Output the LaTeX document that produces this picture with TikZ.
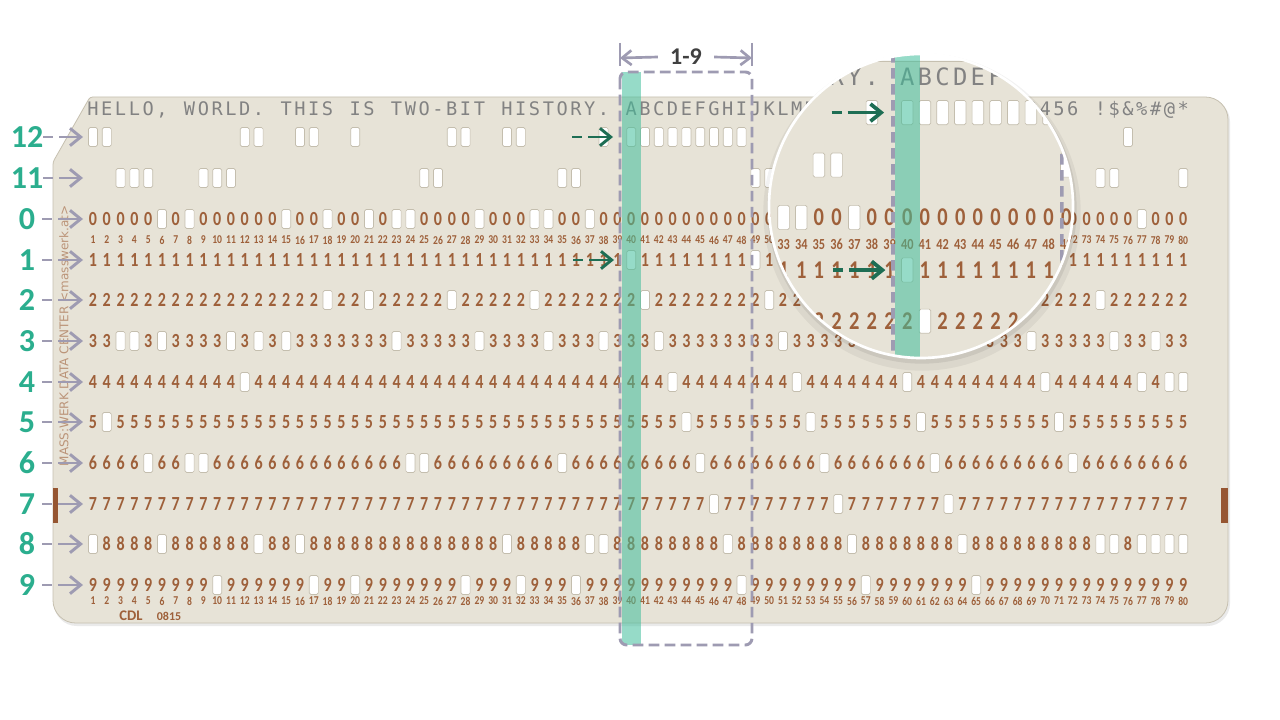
\documentclass[tikz,border=0pt]{standalone}
\usepackage{fontspec}
\setmainfont{Carlito}
\newfontfamily\monofont{DejaVu Sans Mono}
\newfontfamily\sidefont{DejaVu Sans}
\newfontfamily\digitfont{Carlito}[FakeStretch=0.8]
\usetikzlibrary{arrows.meta}

\definecolor{cardbg}{RGB}{231,227,215}
\definecolor{cardedge}{RGB}{198,192,176}
\definecolor{cardbrown}{RGB}{158,96,58}
\definecolor{barbrown}{RGB}{150,86,50}
\definecolor{printgray}{RGB}{130,130,130}
\definecolor{holeedge}{RGB}{196,190,174}
\definecolor{labelteal}{RGB}{43,174,142}
\definecolor{labeldark}{RGB}{64,64,64}
\definecolor{arrowgray}{RGB}{158,155,178}
\definecolor{darkgreen}{RGB}{30,110,84}
\definecolor{bandteal}{RGB}{64,190,155}

% punched rows of every column (IBM 029 code)
\newcommand\punchlist{1/{12,8},2/{12,5},3/{11,3},4/{11,3},5/{11,6},6/{0,8,3},8/{0,6},9/{11,6},10/{11,9},11/{11,3},12/{12,4},13/{12,8,3},15/{0,3},16/{12,8},17/{12,9},18/{0,2},20/{12,9},21/{0,2},23/{0,3},24/{0,6},25/{11,6},26/{11},27/{12,2},28/{12,9},29/{0,3},31/{12,8},32/{12,9},33/{0,2},34/{0,3},35/{11,6},36/{11,9},37/{0,8},38/{12,8,3},40/{12,1},41/{12,2},42/{12,3},43/{12,4},44/{12,5},45/{12,6},46/{12,7},47/{12,8},48/{12,9},49/{11,1},50/{11,2},51/{11,3},52/{11,4},53/{11,5},54/{11,6},55/{11,7},56/{11,8},57/{11,9},58/{0,2},59/{0,3},60/{0,4},61/{0,5},62/{0,6},63/{0,7},64/{0,8},65/{0,9},66/{0},67/{1},68/{2},69/{3},70/{4},71/{5},72/{6},74/{11,8,2},75/{11,8,3},76/{12},77/{0,8,4},78/{8,3},79/{8,4},80/{11,8,4}}
\foreach \cl/\pl in \punchlist {%
  \foreach \rw in \pl {\expandafter\gdef\csname hole\cl-\rw\endcsname{}}%
}

\newcommand\rowlist{12/137,11/178,0/219,1/260,2/300,3/341,4/382,5/422,6/463,7/504,8/544,9/585}
\newcommand\boxwidth{2.2pt}

% the card with its marks, drawn twice (card and magnifier)
\newcommand\cardbody{%
  \fill[black!40, opacity=0.2, rounded corners=17pt] (54,165) -- (91,99) -- (1230,99) -- (1230,626) -- (54,626) -- cycle;
  \draw[cardedge, fill=cardbg, line width=0.6pt] (53,162) [rounded corners=2pt] -- (90,97) [rounded corners=17pt] -- (1228,97) -- (1228,623) -- (53,623) [rounded corners=2pt] -- cycle;
  \fill[barbrown] (53,488) rectangle (58,523);
  \fill[barbrown] (1221,488) rectangle (1228,523);
  \node[sidetext, rotate=90] (maker) at (64,336) {MASS:WERK DATA CENTER <masswerk.at>};
  \node[text=cardbrown, font=\bfseries\fontsize{11}{11}\selectfont, inner sep=0pt] (cdl) at (131,616) {CDL};
  \node[text=cardbrown, font=\bfseries\fontsize{9}{9}\selectfont, inner sep=0pt] (serial) at (169,616) {0815};
  % printed line
  \foreach \ch [count=\cl] in {H,E,L,L,O,{,},{},W,O,R,L,D,.,{},T,H,I,S,{},I,S,{},T,W,O,-,B,I,T,{},H,I,S,T,O,R,Y,.,{},A,B,C,D,E,F,G,H,I,J,K,L,M,N,O,P,Q,R,S,T,U,V,W,X,Y,Z,0,1,2,3,4,5,6,{},!,\$,\&,\%,\#,@,*} {
    \pgfmathsetmacro\cx{93+(\cl-1)*13.8}
    \node[printchar] (p\cl) at (\cx,116) {\ch};
  }
  % holes and row digits
  \foreach \rw/\ry in \rowlist {
    \foreach \cl in {1,...,80} {
      \pgfmathsetmacro\cx{93+(\cl-1)*13.8}
      \ifcsname hole\cl-\rw\endcsname
        \node[hole] (h\rw-\cl) at (\cx,\ry) {};
      \else
        \ifnum\rw<10 \node[carddigit] (d\rw-\cl) at (\cx,\ry) {\rw};\fi
      \fi
    }
  }
  % column numbers
  \foreach \cl in {1,...,80} {
    \pgfmathsetmacro\cx{93+(\cl-1)*13.8}
    \node[colnum] (ct\cl) at (\cx,240) {\cl};
    \node[colnum] (cb\cl) at (\cx,601) {\cl};
  }
  % column 40 and the columns 40-48
  \fill[bandteal, opacity=0.55] (622,72) rectangle (641,645);
  \draw[arrowgray, line width=\boxwidth, dash pattern=on 8pt off 4pt, rounded corners=5pt] (620,72) rectangle (752,645);
  \coordinate (gA12) at (572,137);
  \coordinate (gB12) at (613,137);
  \draw[pointer, darkgreen] (gA12) -- (gB12);
  \coordinate (gA1) at (573,260);
  \coordinate (gB1) at (614,260);
  \draw[pointer, darkgreen] (gA1) -- (gB1);
}

\begin{document}
\begin{tikzpicture}[x=0.75pt, y=-0.75pt,
    hole/.style={draw=holeedge, fill=white, line width=0.5pt, rounded corners=1.2pt,
      minimum width=6.8pt, minimum height=14.2pt, inner sep=0pt},
    carddigit/.style={text=cardbrown, font=\digitfont\bfseries\fontsize{15}{15}\selectfont, inner sep=0pt},
    colnum/.style={text=cardbrown, font=\digitfont\bfseries\fontsize{9}{9}\selectfont, inner sep=0pt},
    printchar/.style={text=printgray, font=\monofont\fontsize{14}{14}\selectfont, inner sep=0pt, anchor=base},
    sidetext/.style={text=cardbrown, opacity=0.6, font=\sidefont\fontsize{9}{9}\selectfont, inner sep=0pt},
    rowlabel/.style={text=labelteal, font=\bfseries\fontsize{24}{24}\selectfont, inner sep=0pt, minimum width=22.5pt},
    pointer/.style={line width=\boxwidth, dash pattern=on 7.5pt off 4.5pt on 40pt, -{Straight Barb[length=8pt,width=13pt]}},
    spanarrow/.style={arrowgray, line width=2pt, -{Straight Barb[length=7pt,width=11pt]}}]
  \useasboundingbox (0,0) rectangle (1280,720);
  \fill[white] (0,0) rectangle (1280,720);

  \cardbody

  % magnifier
  \fill[black, opacity=0.05] (922,212) circle[radius=119pt];
  \fill[black, opacity=0.07] (922,209) circle[radius=116pt];
  \begin{scope}
    \clip (921,206) circle[radius=114pt];
    \fill[white] (921,206) circle[radius=114pt];
    \renewcommand\boxwidth{2.8pt}
    \begin{scope}[shift={(99.3,-62.8)}, scale=1.28, transform shape]
      \cardbody
    \end{scope}
  \end{scope}
  \draw[white, line width=2pt] (921,206) circle[radius=114pt];

  % row names
  \foreach \rw/\ry in \rowlist {
    \node[rowlabel] (lab\rw) at (27,\ry) {\rw};
    \coordinate (tip\rw) at (83,\ry);
    \draw[pointer, arrowgray] (lab\rw.east) -- (tip\rw);
  }

  % span of the columns
  \node[text=labeldark, font=\bfseries\fontsize{18}{18}\selectfont, inner xsep=9pt] (span) at (686,57) {1-9};
  \coordinate (spanL) at (620,58);
  \coordinate (spanR) at (752,58);
  \draw[arrowgray, line width=2pt] (620,43) -- (620,66) (752,43) -- (752,66);
  \draw[spanarrow] (span.west) -- (spanL);
  \draw[spanarrow] (span.east) -- (spanR);
\end{tikzpicture}
\end{document}
